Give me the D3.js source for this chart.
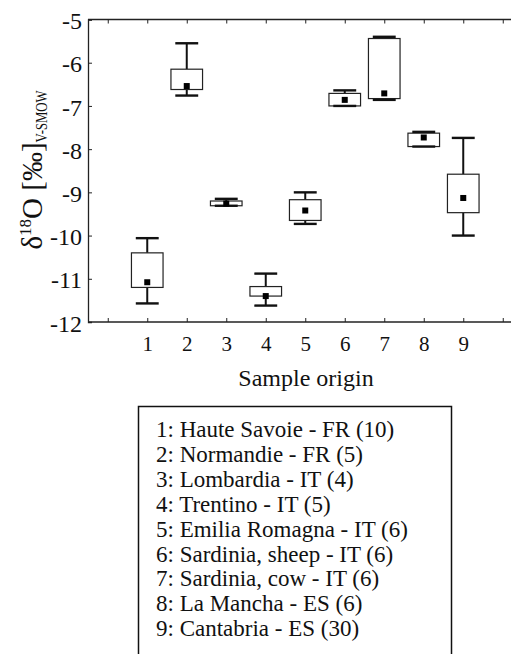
<!DOCTYPE html>
<html>
<head>
<meta charset="UTF-8">
<script src="https://cdn.jsdelivr.net/npm/d3@7"></script>
<title>Sample origin box plot</title>
<style>
    body, html{
        margin: 0;
        padding: 0;
        background: #fff;
    }
</style>
</head>
<body>
<div id="chart"></div>
<script>

// data
const origins = [1, 2, 3, 4, 5, 6, 7, 8, 9]
const whiskerHigh = [-10.06, -5.55, -9.15, -10.88, -9.00, -6.64, -5.40, -7.60, -7.74]
const boxHigh     = [-10.40, -6.15, -9.20, -11.18, -9.17, -6.71, -5.44, -7.63, -8.58]
const boxLow      = [-11.20, -6.62, -9.31, -11.40, -9.65, -7.00, -6.83, -7.94, -9.47]
const whiskerLow  = [-11.57, -6.76, -9.31, -11.62, -9.73, -7.00, -6.86, -7.94, -10.00]
const centre      = [-11.08, -6.54, -9.26, -11.40, -9.42, -6.86, -6.71, -7.73, -9.13]
const yTicks = [-12, -11, -10, -9, -8, -7, -6, -5]
const xTicks = [0, 1, 2, 3, 4, 5, 6, 7, 8, 9, 10]
const legendLabels = [
    "1: Haute Savoie - FR (10)",
    "2: Normandie - FR (5)",
    "3: Lombardia - IT (4)",
    "4: Trentino - IT (5)",
    "5: Emilia Romagna - IT (6)",
    "6: Sardinia, sheep - IT (6)",
    "7: Sardinia, cow - IT (6)",
    "8: La Mancha - ES (6)",
    "9: Cantabria - ES (30)"
]

const FONT = '"Liberation Serif"'
const W = 511, H = 654
const plotLeft = 88, plotTop = 19.5, plotBottom = 322
const step = 39.5

const svg = d3.select("#chart").append("svg").attr("width", W).attr("height", H)

const x = d3.scaleLinear().domain([-0.5, 10.5]).range([plotLeft, plotLeft + 11 * step])
const y = d3.scaleLinear().domain([-12, -5]).range([plotBottom, plotTop])

// frame (right side falls outside the picture)
const frame = svg.append("g").attr("stroke", "#222").attr("fill", "none")
frame.append("line").attr("x1", plotLeft).attr("x2", x(10.5)).attr("y1", plotTop).attr("y2", plotTop).attr("stroke-width", 1.3)
frame.append("line").attr("x1", plotLeft).attr("x2", x(10.5)).attr("y1", plotBottom).attr("y2", plotBottom).attr("stroke-width", 1.3)

// axes, ticks inward
const yAxis = svg.append("g").attr("transform", `translate(${plotLeft},0)`)
    .call(d3.axisLeft(y).tickValues(yTicks).tickSize(-4).tickPadding(6).tickFormat(d3.format("d")))
yAxis.attr("font-family", null).attr("font-size", null)
yAxis.select(".domain").attr("stroke", "#222").attr("stroke-width", 1.3)
yAxis.selectAll(".tick line").attr("stroke", "#222")
yAxis.selectAll("text").style("font-family", FONT).attr("font-size", 24).attr("fill", "#111")
    .attr("dy", "0.38em").text(d => "-" + Math.abs(d))

const xAxis = svg.append("g").attr("transform", `translate(0,${plotBottom})`)
    .call(d3.axisBottom(x).tickValues(xTicks).tickSize(-4).tickPadding(14)
        .tickFormat(d => (d >= 1 && d <= 9) ? d : ""))
xAxis.attr("font-family", null).attr("font-size", null)
xAxis.select(".domain").remove()
xAxis.selectAll(".tick line").attr("stroke", "#222")
xAxis.selectAll("text").style("font-family", FONT).attr("font-size", 21).attr("fill", "#111")

const xTop = svg.append("g").attr("transform", `translate(0,${plotTop})`)
    .call(d3.axisTop(x).tickValues(xTicks).tickSize(-4).tickFormat(""))
xTop.select(".domain").remove()
xTop.selectAll(".tick line").attr("stroke", "#222")

// boxes
const boxW = 0.8 * step, capW = 0.58 * step
const g = svg.append("g")
origins.forEach((o, i) => {
    const cx = x(o)
    // whisker stems
    g.append("line").attr("x1", cx).attr("x2", cx).attr("y1", y(whiskerHigh[i])).attr("y2", y(boxHigh[i]))
        .attr("stroke", "#111").attr("stroke-width", 2)
    g.append("line").attr("x1", cx).attr("x2", cx).attr("y1", y(boxLow[i])).attr("y2", y(whiskerLow[i]))
        .attr("stroke", "#111").attr("stroke-width", 2)
    // box
    g.append("rect").attr("x", cx - boxW / 2).attr("y", y(boxHigh[i]))
        .attr("width", boxW).attr("height", y(boxLow[i]) - y(boxHigh[i]))
        .attr("fill", "#fff").attr("stroke", "#222").attr("stroke-width", 1.2)
    // caps
    ;[whiskerHigh[i], whiskerLow[i]].forEach(v => {
        g.append("line").attr("x1", cx - capW / 2).attr("x2", cx + capW / 2).attr("y1", y(v)).attr("y2", y(v))
            .attr("stroke", "#111").attr("stroke-width", 2.4)
    })
    // centre marker
    g.append("rect").attr("x", cx - 3).attr("y", y(centre[i]) - 3).attr("width", 6).attr("height", 6).attr("fill", "#000")
})

// axis titles
svg.append("text").attr("x", 306).attr("y", 386).attr("text-anchor", "middle")
    .style("font-family", FONT).attr("font-size", 24).attr("fill", "#111").text("Sample origin")

const yl = svg.append("text").attr("transform", "translate(42,170) rotate(-90)").attr("text-anchor", "middle")
    .style("font-family", FONT).attr("font-size", 29).attr("fill", "#111")
yl.append("tspan").text("δ")
yl.append("tspan").attr("font-size", 17).attr("dy", -11).text("18")
yl.append("tspan").attr("dy", 11).text("O [‰]")
yl.append("tspan").attr("font-size", 17).attr("dy", 5).attr("textLength", 52).attr("lengthAdjust", "spacingAndGlyphs").text("V-SMOW")

// legend box
svg.append("rect").attr("x", 138.5).attr("y", 406.5).attr("width", 313).attr("height", 260)
    .attr("fill", "none").attr("stroke", "#111").attr("stroke-width", 1.5)
svg.append("g").selectAll("text").data(legendLabels).enter().append("text")
    .style("font-family", FONT).attr("font-size", 23).attr("fill", "#111")
    .attr("x", 156).attr("y", (d, i) => 437 + i * 24.9).text(d => d)

</script>
</body>
</html>
